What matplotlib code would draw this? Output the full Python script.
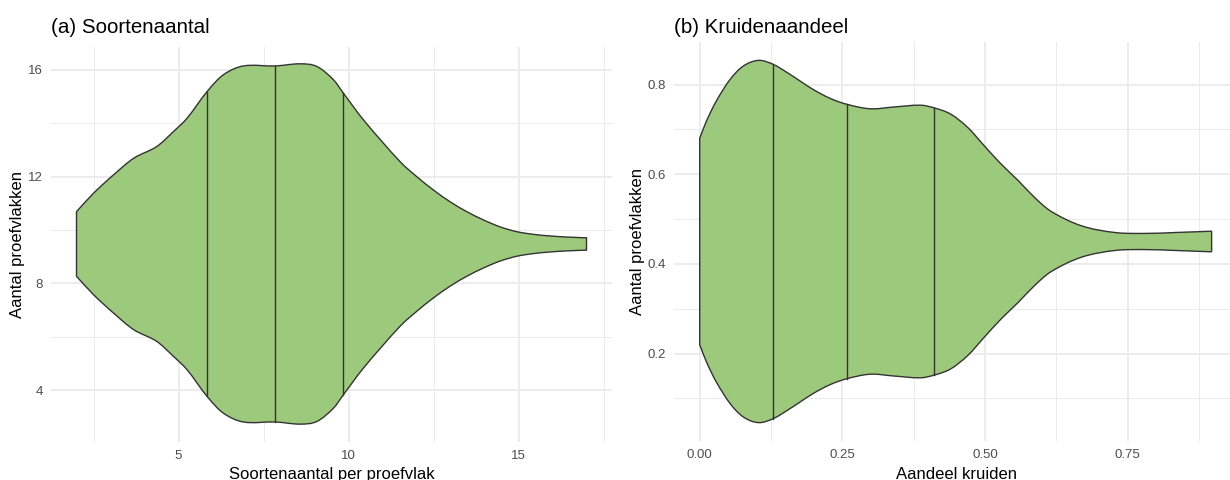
import numpy as np
import matplotlib
matplotlib.use("Agg")
import matplotlib.pyplot as plt
from matplotlib.path import Path
from matplotlib.patches import PathPatch
from matplotlib.ticker import MultipleLocator, FormatStrFormatter

plt.rcParams['font.family'] = ['Liberation Sans', 'DejaVu Sans']

# (a) Soortenaantal: violin outline (x, half width)
soort_x = [2.0, 2.5, 3.09, 3.68, 4.36, 4.85, 5.25, 5.84, 6.32, 6.91, 7.84, 8.58,
           9.07, 9.56, 9.85, 10.44, 11.52, 12.01, 12.50, 12.99, 13.48, 13.97,
           14.46, 14.95, 15.44, 15.93, 16.42, 17.0]
soort_hw = [1.21, 1.90, 2.59, 3.21, 3.65, 4.21, 4.71, 5.71, 6.34, 6.67, 6.67, 6.75,
            6.65, 6.15, 5.65, 4.65, 3.08, 2.52, 2.02, 1.58, 1.21, 0.90,
            0.64, 0.46, 0.36, 0.30, 0.26, 0.23]
soort_center = 9.48
soort_quantiles = [5.84, 7.84, 9.85]

# (b) Kruidenaandeel
kruid_x = [0.0, 0.012, 0.029, 0.053, 0.076, 0.103, 0.129, 0.158, 0.199, 0.229, 0.258,
           0.299, 0.340, 0.387, 0.411, 0.440, 0.470, 0.499, 0.528, 0.558, 0.587,
           0.616, 0.669, 0.728, 0.780, 0.833, 0.897]
kruid_hw = [0.230, 0.269, 0.313, 0.361, 0.391, 0.404, 0.395, 0.373, 0.339, 0.319, 0.306,
            0.296, 0.300, 0.304, 0.298, 0.284, 0.254, 0.213, 0.173, 0.136, 0.098,
            0.067, 0.035, 0.020, 0.018, 0.020, 0.023]
kruid_center = 0.45
kruid_quantiles = [0.129, 0.258, 0.411]

FILL = '#9dc97c'
EDGE = '#333333'
GRID = '#ebebeb'
TEXT = '#4d4d4d'

W, H = 1230, 480


def smooth_segments(xs, ys):
    """Cubic Hermite (in x) through the points, as bezier path pieces."""
    xs = np.asarray(xs, dtype=float)
    ys = np.asarray(ys, dtype=float)
    n = len(xs)
    m = np.empty(n)
    m[1:-1] = (ys[2:] - ys[:-2]) / (xs[2:] - xs[:-2])
    m[0] = (ys[1] - ys[0]) / (xs[1] - xs[0])
    m[-1] = (ys[-1] - ys[-2]) / (xs[-1] - xs[-2])
    verts, codes = [], []
    for i in range(n - 1):
        dx = xs[i + 1] - xs[i]
        verts += [(xs[i] + dx / 3, ys[i] + m[i] * dx / 3),
                  (xs[i + 1] - dx / 3, ys[i + 1] - m[i + 1] * dx / 3),
                  (xs[i + 1], ys[i + 1])]
        codes += [Path.CURVE4] * 3
    return verts, codes


def draw_violin(ax, xs, hw, center, quantiles):
    xs = np.asarray(xs, dtype=float)
    hw = np.asarray(hw, dtype=float)

    verts = [(xs[0], center + hw[0])]
    codes = [Path.MOVETO]
    v, c = smooth_segments(xs, center + hw)
    verts += v
    codes += c
    # straight cut at the right end
    verts.append((xs[-1], center - hw[-1]))
    codes.append(Path.LINETO)
    v, c = smooth_segments(xs[::-1], center - hw[::-1])
    verts += v
    codes += c
    verts.append((xs[0], center + hw[0]))
    codes.append(Path.CLOSEPOLY)

    patch = PathPatch(Path(verts, codes), facecolor=FILL, edgecolor=EDGE,
                      linewidth=1.0, zorder=3)
    ax.add_patch(patch)

    # quartile lines
    for q in quantiles:
        h = np.interp(q, xs, hw)
        ax.plot([q, q], [center - h, center + h], color=EDGE, linewidth=1.0, zorder=4)


def style_axes(ax, xmajor, xminor, ymajor, yminor):
    for s in ax.spines.values():
        s.set_visible(False)
    ax.xaxis.set_major_locator(MultipleLocator(xmajor))
    ax.xaxis.set_minor_locator(MultipleLocator(xminor))
    ax.yaxis.set_major_locator(MultipleLocator(ymajor))
    ax.yaxis.set_minor_locator(MultipleLocator(yminor))
    ax.grid(which='major', color=GRID, linewidth=1.3, zorder=0)
    ax.grid(which='minor', color=GRID, linewidth=0.7, zorder=0)
    ax.tick_params(which='both', length=0, labelsize=9.5, labelcolor=TEXT, pad=6)
    ax.set_axisbelow(True)


def px_axes(fig, left, top, right, bottom):
    return fig.add_axes([left / W, 1 - bottom / H, (right - left) / W, (bottom - top) / H])


fig = plt.figure(figsize=(W / 100, H / 100), dpi=100)

# left panel
ax1 = px_axes(fig, 51, 47, 612, 442)
draw_violin(ax1, soort_x, soort_hw, soort_center, soort_quantiles)
style_axes(ax1, 5, 2.5, 4, 2)
ax1.set_xlim(1.25, 17.75)
ax1.set_ylim(2.06, 16.86)
ax1.xaxis.set_major_formatter(FormatStrFormatter('%d'))
ax1.yaxis.set_major_formatter(FormatStrFormatter('%d'))

# right panel (runs past the right edge, as in the original crop)
ax2 = px_axes(fig, 674, 42, 1239, 441)
draw_violin(ax2, kruid_x, kruid_hw, kruid_center, kruid_quantiles)
style_axes(ax2, 0.25, 0.125, 0.2, 0.1)
ax2.set_xlim(-0.045, 0.945)
ax2.set_ylim(0.005, 0.895)
ax2.xaxis.set_major_formatter(FormatStrFormatter('%.2f'))
ax2.yaxis.set_major_formatter(FormatStrFormatter('%.1f'))

# titles and axis titles
fig.text(51 / W, 1 - 27.5 / H, '(a) Soortenaantal', fontsize=14.8, va='center', ha='left')
fig.text(674 / W, 1 - 27.5 / H, '(b) Kruidenaandeel', fontsize=14.8, va='center', ha='left')

fig.text(18 / W, 1 - 244.5 / H, 'Aantal proefvlakken', fontsize=12, rotation=90,
         va='center', ha='center')
fig.text(637 / W, 1 - 241.5 / H, 'Aantal proefvlakken', fontsize=12, rotation=90,
         va='center', ha='center')

fig.text(331.5 / W, 1 / H, 'Soortenaantal per proefvlak', fontsize=12,
         va='baseline', ha='center')
fig.text(956 / W, 1 / H, 'Aandeel kruiden', fontsize=12, va='baseline', ha='center')

fig.savefig('out.png', dpi=100)
